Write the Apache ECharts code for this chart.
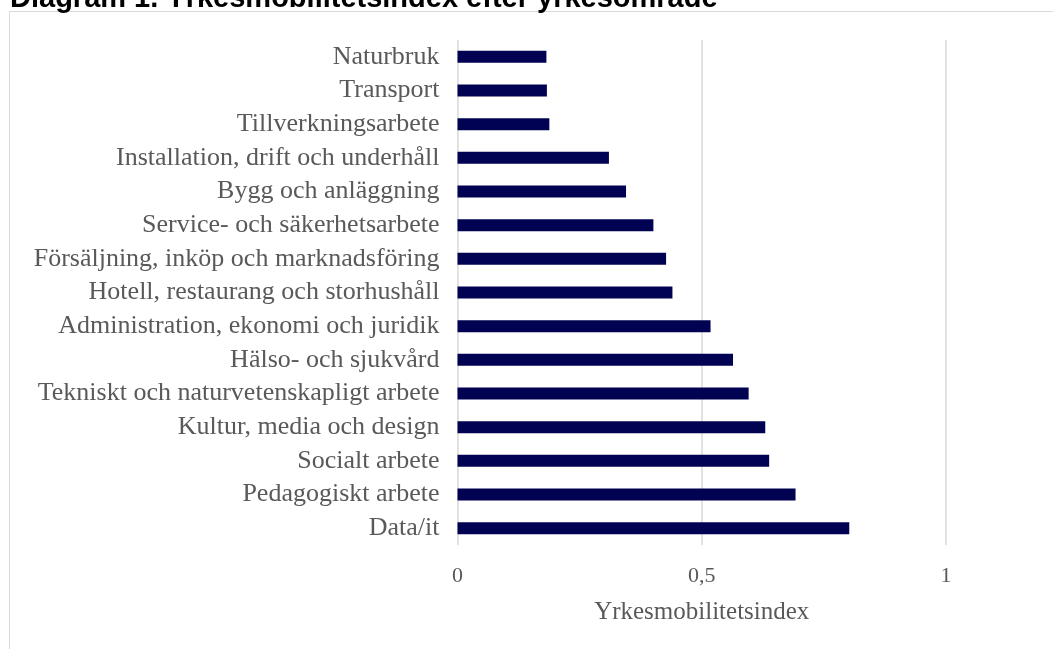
<!DOCTYPE html>
<html>
<head>
<meta charset="utf-8">
<script src="https://cdn.jsdelivr.net/npm/echarts@6/dist/echarts.min.js"></script>
<style>
  html, body { margin: 0; padding: 0; background: #fff; }
  #chart { width: 1053px; height: 649px; }
</style>
</head>
<body>
<div id="chart"></div>
<script>
    // yrkesområden, uppifrån och ned
    var categories = [
        'Naturbruk',
        'Transport',
        'Tillverkningsarbete',
        'Installation, drift och underhåll',
        'Bygg och anläggning',
        'Service- och säkerhetsarbete',
        'Försäljning, inköp och marknadsföring',
        'Hotell, restaurang och storhushåll',
        'Administration, ekonomi och juridik',
        'Hälso- och sjukvård',
        'Tekniskt och naturvetenskapligt arbete',
        'Kultur, media och design',
        'Socialt arbete',
        'Pedagogiskt arbete',
        'Data/it'
    ];
    var indexValues = [0.182, 0.183, 0.188, 0.310, 0.345, 0.401, 0.427, 0.440,
        0.518, 0.564, 0.596, 0.630, 0.638, 0.692, 0.802];
    var xTicks = [0, 0.5, 1];

    var titleText = 'Diagram 1. Yrkesmobilitetsindex efter yrkesområde';
    var axisName = 'Yrkesmobilitetsindex';

    var serif = '"Liberation Serif", "DejaVu Serif", serif';

    var myChart = echarts.init(document.getElementById('chart'));

    var option = {
        animation: false,
        backgroundColor: '#fff',
        graphic: [{
            type: 'rect',
            shape: { x: 9.5, y: 11.5, width: 1100, height: 700 },
            style: { fill: 'none', stroke: '#d9d9d9', lineWidth: 1 },
            silent: true
        }, {
            type: 'text',
            left: 10,
            top: -16,
            style: {
                text: titleText,
                font: 'bold 29px "Liberation Sans", Arial, sans-serif',
                fill: '#000'
            },
            silent: true
        }],
        grid: {
            left: 457.5,
            right: 107,
            top: 40,
            bottom: 104,
            containLabel: false
        },
        xAxis: {
            type: 'value',
            min: xTicks[0],
            max: xTicks[xTicks.length - 1],
            interval: 0.5,
            name: axisName,
            nameLocation: 'middle',
            nameGap: 55,
            nameTextStyle: { fontFamily: serif, fontSize: 25, color: '#595959' },
            axisLine: { show: false },
            axisTick: { show: false },
            axisLabel: {
                margin: 20,
                fontFamily: serif,
                fontSize: 22,
                color: '#595959',
                formatter: function (v) { return String(v).replace('.', ','); }
            },
            splitLine: { lineStyle: { color: '#d9d9d9', width: 1.5 } }
        },
        yAxis: {
            type: 'category',
            inverse: true,
            data: categories,
            axisLine: { show: false },
            axisTick: { show: false },
            axisLabel: {
                interval: 0,
                hideOverlap: false,
                margin: 18,
                fontFamily: serif,
                fontSize: 26,
                color: '#595959'
            }
        },
        series: [{
            type: 'bar',
            data: indexValues,
            barWidth: 12,
            itemStyle: { color: '#020252' }
        }]
    };

    myChart.setOption(option);
</script>
</body>
</html>
